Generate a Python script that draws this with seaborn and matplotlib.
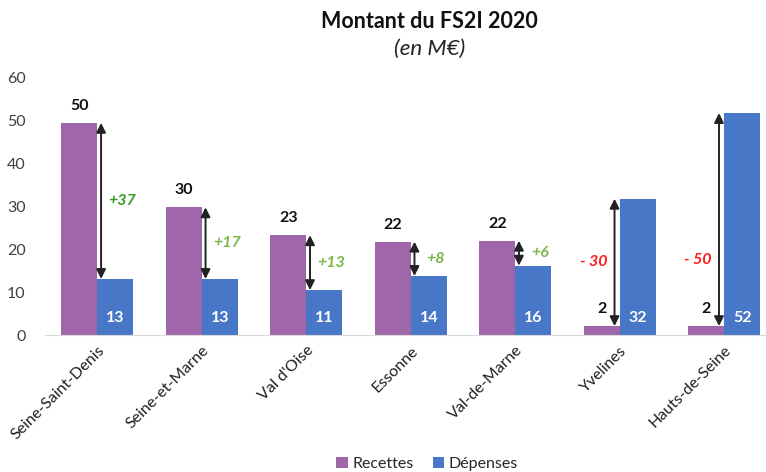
import pandas as pd
import matplotlib
matplotlib.use("Agg")
import matplotlib.pyplot as plt
import seaborn as sns

# Données FS2I 2020 (en M€)
departements = ["Seine-Saint-Denis", "Seine-et-Marne", "Val d'Oise", "Essonne",
                "Val-de-Marne", "Yvelines", "Hauts-de-Seine"]
recettes = [49.5, 29.8, 23.3, 21.8, 22.0, 2.1, 2.1]
depenses = [13.1, 13.1, 10.5, 13.8, 16.2, 31.8, 51.8]
lbl_recettes = [50, 30, 23, 22, 22, 2, 2]
lbl_depenses = [13, 13, 11, 14, 16, 32, 52]
ecarts = ["+37", "+17", "+13", "+8", "+6", "- 30", "- 50"]

df = pd.DataFrame({
    "dep": departements * 2,
    "val": recettes + depenses,
    "serie": ["Recettes"] * 7 + ["Dépenses"] * 7,
})

sns.set_style("white")
plt.rcParams["font.family"] = ["Lato", "DejaVu Sans"]

fig = plt.figure(figsize=(7.66, 4.72), dpi=100)
ax = fig.add_axes([0.059, 0.290, 0.941, 0.545])

couleurs = {"Recettes": "#A066AA", "Dépenses": "#4877C8"}
sns.barplot(data=df, x="dep", y="val", hue="serie", palette=couleurs,
            width=0.69, saturation=1, linewidth=0, ax=ax, legend=True)

ax.set_xlim(-0.5, 6.4)
ax.set_ylim(0, 60)
ax.set_yticks(range(0, 61, 10))
ax.set_xlabel("")
ax.set_ylabel("")
ax.tick_params(axis="y", length=0, labelsize=11.5, labelcolor="#404040", pad=14)
ax.tick_params(axis="x", length=0, labelsize=11.5, labelcolor="#202020", pad=6)
plt.setp(ax.get_xticklabels(), rotation=45, ha="right", rotation_mode="anchor")
for s in ["left", "top", "right"]:
    ax.spines[s].set_visible(False)
ax.spines["bottom"].set_color("#d9d9d9")

demi = 0.69 / 4
for i in range(len(departements)):
    r, d = recettes[i], depenses[i]
    # valeurs
    ax.text(i - demi, r + 4, str(lbl_recettes[i]), ha="center", va="center",
            fontsize=11.5, fontweight="bold", color="#111111")
    ax.text(i + demi, 4, str(lbl_depenses[i]), ha="center", va="center",
            fontsize=11.5, fontweight="bold", color="white")
    # flèche d'écart
    positif = r > d
    xa = i + (0.035 if positif else -0.05)
    ax.annotate("", xy=(xa, d), xytext=(xa, r),
                arrowprops=dict(arrowstyle="<|-|>", color="#222222", lw=1.4,
                                shrinkA=0, shrinkB=0, mutation_scale=14))
    milieu = (r + d) / 2
    if positif:
        coul = "#3a9a28" if i == 0 else "#7ab648"
        ax.text(i + 0.24, milieu, ecarts[i], ha="center", va="center",
                fontsize=11.5, fontstyle="italic", fontweight="bold", color=coul)
    else:
        ax.text(i - 0.25, min(milieu, r + 15.5), ecarts[i], ha="center", va="center",
                fontsize=11.5, fontstyle="italic", fontweight="bold", color="#ff1a1a")

fig.text(0.561, 0.955, "Montant du FS2I 2020", ha="center", va="center",
         fontsize=15.5, fontweight="bold", color="#111111")
fig.text(0.561, 0.897, "(en M€)", ha="center", va="center",
         fontsize=16, fontstyle="italic", color="#222222")

ax.legend(loc="center", bbox_to_anchor=(0.53, -0.50), ncol=2, frameon=False,
          fontsize=11.5, handlelength=0.7, handleheight=0.7, handletextpad=0.3,
          columnspacing=1.2)

fig.savefig("out.png", dpi=100)
